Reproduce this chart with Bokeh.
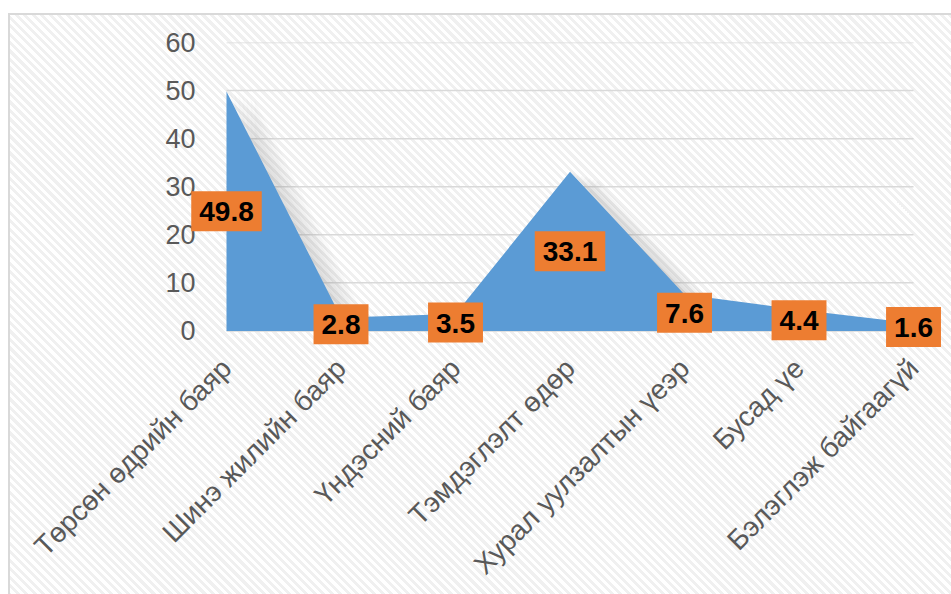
from bokeh.plotting import figure
from bokeh.models import Range1d, FixedTicker, Label
from bokeh.embed import file_html
from bokeh.resources import INLINE
import math

categories = ["Төрсөн өдрийн баяр", "Шинэ жилийн баяр", "Үндэсний баяр",
              "Тэмдэглэлт өдөр", "Хурал уулзалтын үеэр", "Бусад үе", "Бэлэглэж байгаагүй"]
values = [49.8, 2.8, 3.5, 33.1, 7.6, 4.4, 1.6]
y_ticks = [0, 10, 20, 30, 40, 50, 60]

xs = list(range(len(categories)))
x_last = xs[-1]

# frame is a little larger than the 0..6 / 0..60 data box so labels are not clipped
p = figure(width=951, height=594, output_backend="svg", toolbar_location=None,
           x_range=Range1d(-0.3144, 6.288), y_range=Range1d(-3.864, 60),
           min_border_left=190, min_border_right=5, min_border_top=42, min_border_bottom=238)
p.background_fill_color = None
p.border_fill_color = None
p.outline_line_color = None
p.styles = {
    "background": ("linear-gradient(#d9d9d9,#d9d9d9) 8px 13px / 100% 2px no-repeat, "
                   "linear-gradient(#d9d9d9,#d9d9d9) 8px 13px / 2px 100% no-repeat, "
                   "repeating-linear-gradient(45deg, #ffffff 0px, #ffffff 3px, #f0f0f0 3px, #f0f0f0 6px) "
                   "8px 13px / 100% 100% no-repeat, white"),
}

# grid lines over the data box only
p.xgrid.grid_line_color = None
p.ygrid.grid_line_color = None
p.segment(x0=[xs[0]] * len(y_ticks), x1=[x_last] * len(y_ticks), y0=y_ticks, y1=y_ticks,
          line_color="#d9d9d9", line_width=1.5)

p.yaxis.ticker = FixedTicker(ticks=y_ticks)
p.xaxis.ticker = FixedTicker(ticks=xs)
p.xaxis.major_label_overrides = {i: c for i, c in enumerate(categories)}

for ax in (p.xaxis[0], p.yaxis[0]):
    ax.axis_line_color = None
    ax.major_tick_line_color = None
    ax.minor_tick_line_color = None
    ax.major_label_text_font = "Liberation Sans"
    ax.major_label_text_color = "#595959"
p.yaxis.major_label_text_font_size = "27px"
p.yaxis.major_label_standoff = -11
p.xaxis.major_label_text_font_size = "28px"
p.xaxis.major_label_orientation = math.pi / 4
p.xaxis.major_label_standoff = 8

# soft shadow
for k in range(1, 8):
    p.varea(x=[min(x + 0.035 * k, x_last) for x in xs], y1=[0] * len(xs),
            y2=[max(v - 0.25 * k, 0) for v in values],
            fill_color="#808080", fill_alpha=0.04)

# area
p.varea(x=xs, y1=[0] * len(xs), y2=values, fill_color="#5B9BD5")

# data labels (centred at half height, as in the original)
for x, v in zip(xs, values):
    p.add_layout(Label(x=x, y=v / 2, text=f"{v:.1f}", text_align="center", text_baseline="middle",
                       text_font="Liberation Sans", text_font_style="bold", text_font_size="28px",
                       text_color="black", background_fill_color="#ED7D31",
                       padding=dict(left=8, right=8, top=11, bottom=10)))

open("out.html", "w").write(file_html(p, INLINE))
